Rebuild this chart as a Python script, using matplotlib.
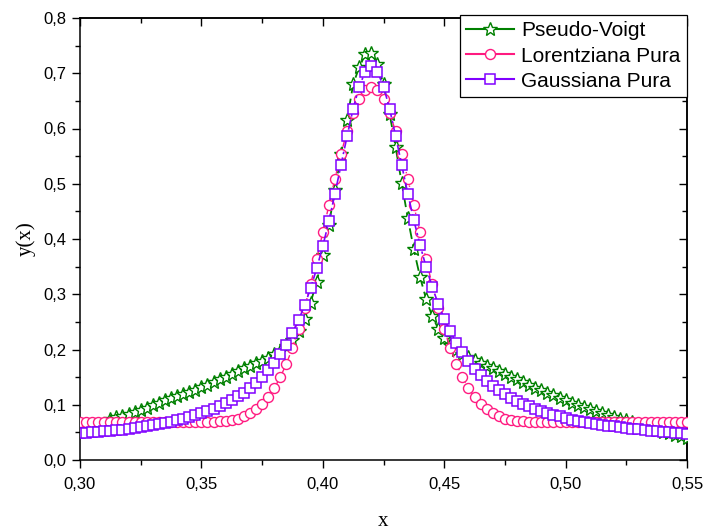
import matplotlib
matplotlib.use('Agg')
import matplotlib.pyplot as plt
from matplotlib.lines import Line2D
from matplotlib.ticker import MultipleLocator, FuncFormatter

# ---------------- data ----------------
x = [0.3000, 0.3025, 0.3050, 0.3075, 0.3100, 0.3125, 0.3150, 0.3175, 0.3200, 0.3225,
     0.3250, 0.3275, 0.3300, 0.3325, 0.3350, 0.3375, 0.3400, 0.3425, 0.3450, 0.3475,
     0.3500, 0.3525, 0.3550, 0.3575, 0.3600, 0.3625, 0.3650, 0.3675, 0.3700, 0.3725,
     0.3750, 0.3775, 0.3800, 0.3825, 0.3850, 0.3875, 0.3900, 0.3925, 0.3950, 0.3975,
     0.4000, 0.4025, 0.4050, 0.4075, 0.4100, 0.4125, 0.4150, 0.4175, 0.4200, 0.4225,
     0.4250, 0.4275, 0.4300, 0.4325, 0.4350, 0.4375, 0.4400, 0.4425, 0.4450, 0.4475,
     0.4500, 0.4525, 0.4550, 0.4575, 0.4600, 0.4625, 0.4650, 0.4675, 0.4700, 0.4725,
     0.4750, 0.4775, 0.4800, 0.4825, 0.4850, 0.4875, 0.4900, 0.4925, 0.4950, 0.4975,
     0.5000, 0.5025, 0.5050, 0.5075, 0.5100, 0.5125, 0.5150, 0.5175, 0.5200, 0.5225,
     0.5250, 0.5275, 0.5300, 0.5325, 0.5350, 0.5375, 0.5400, 0.5425, 0.5450, 0.5475,
     0.5500]

# Pseudo-Voigt: starts at x = 0.3125 (x[5:])
pseudo_voigt = [0.074, 0.077, 0.080, 0.083, 0.087, 0.091, 0.095, 0.099, 0.104, 0.108,
                0.112, 0.115, 0.119, 0.123, 0.127, 0.132, 0.136, 0.141, 0.146, 0.151,
                0.156, 0.161, 0.166, 0.171, 0.175, 0.180, 0.185, 0.191, 0.197, 0.206,
                0.218, 0.234, 0.256, 0.285, 0.323, 0.371, 0.426, 0.488, 0.553, 0.616,
                0.680, 0.711, 0.734, 0.736, 0.717, 0.680, 0.627, 0.566, 0.501, 0.438,
                0.381, 0.332, 0.292, 0.261, 0.238, 0.220, 0.208, 0.199, 0.192, 0.186,
                0.181, 0.176, 0.171, 0.166, 0.161, 0.156, 0.151, 0.146, 0.141, 0.136,
                0.131, 0.127, 0.122, 0.118, 0.113, 0.109, 0.104, 0.100, 0.096, 0.092,
                0.088, 0.085, 0.081, 0.078, 0.075, 0.072, 0.068, 0.065, 0.061, 0.058,
                0.055, 0.051, 0.048, 0.046, 0.043, 0.040]

lorentziana = [0.068, 0.068, 0.068, 0.068, 0.068, 0.068, 0.068, 0.068, 0.068, 0.068,
               0.068, 0.068, 0.068, 0.068, 0.068, 0.068, 0.068, 0.068, 0.068, 0.068,
               0.068, 0.068, 0.069, 0.070, 0.071, 0.073, 0.075, 0.079, 0.085, 0.092,
               0.102, 0.114, 0.130, 0.150, 0.174, 0.203, 0.237, 0.276, 0.318, 0.364,
               0.412, 0.461, 0.509, 0.554, 0.595, 0.628, 0.654, 0.670, 0.675, 0.670,
               0.654, 0.628, 0.595, 0.554, 0.509, 0.461, 0.412, 0.364, 0.318, 0.276,
               0.237, 0.203, 0.174, 0.150, 0.130, 0.114, 0.102, 0.092, 0.085, 0.079,
               0.075, 0.073, 0.071, 0.070, 0.069, 0.068, 0.068, 0.068, 0.068, 0.068,
               0.068, 0.068, 0.068, 0.068, 0.068, 0.068, 0.068, 0.068, 0.068, 0.068,
               0.068, 0.068, 0.068, 0.068, 0.068, 0.068, 0.068, 0.068, 0.068, 0.068,
               0.068]

gaussiana = [0.048, 0.049, 0.050, 0.051, 0.052, 0.053, 0.054, 0.055, 0.057, 0.058,
             0.060, 0.061, 0.063, 0.065, 0.067, 0.069, 0.072, 0.075, 0.078, 0.081,
             0.085, 0.088, 0.093, 0.097, 0.103, 0.109, 0.115, 0.122, 0.131, 0.140,
             0.150, 0.162, 0.176, 0.192, 0.209, 0.230, 0.253, 0.280, 0.311, 0.347,
             0.387, 0.432, 0.482, 0.534, 0.586, 0.636, 0.676, 0.703, 0.713, 0.703,
             0.676, 0.636, 0.586, 0.534, 0.482, 0.434, 0.390, 0.350, 0.314, 0.283,
             0.256, 0.233, 0.212, 0.195, 0.179, 0.165, 0.153, 0.143, 0.134, 0.126,
             0.119, 0.113, 0.107, 0.101, 0.097, 0.092, 0.089, 0.085, 0.082, 0.079,
             0.076, 0.073, 0.071, 0.069, 0.067, 0.065, 0.064, 0.062, 0.061, 0.059,
             0.058, 0.057, 0.056, 0.054, 0.053, 0.052, 0.051, 0.050, 0.049, 0.048,
             0.047]

labels = ["Pseudo-Voigt", "Lorentziana Pura", "Gaussiana Pura"]
x_ticks = [0.30, 0.35, 0.40, 0.45, 0.50, 0.55]
y_ticks = [0.0, 0.1, 0.2, 0.3, 0.4, 0.5, 0.6, 0.7, 0.8]

# ---------------- styling ----------------
c_green = '#008000'
c_pink = '#FF1A80'
c_purple = '#8000FF'
sans = 'Liberation Sans'
serif = 'Liberation Serif'

fig = plt.figure(figsize=(7.04, 5.31), dpi=100)
ax = fig.add_axes([80 / 704, 1 - 460 / 531, 607 / 704, 442 / 531])

ax.plot(x[5:], pseudo_voigt, color=c_green, lw=1.3, ls=(0, (6, 3)),
        marker='*', ms=10, mfc='white', mec=c_green, mew=1.0, zorder=3)
ax.plot(x, lorentziana, color=c_pink, lw=1.0, ls=(0, (5, 2, 1, 2)),
        marker='o', ms=7.2, mfc='white', mec=c_pink, mew=1.0, zorder=4)
ax.plot(x, gaussiana, color=c_purple, lw=1.2, ls=(0, (6, 2, 1.5, 2)),
        marker='s', ms=6.5, mfc='white', mec=c_purple, mew=1.1, zorder=5)

ax.set_xlim(0.30, 0.55)
ax.set_ylim(0.0, 0.8)
ax.set_xticks(x_ticks)
ax.set_yticks(y_ticks)
ax.xaxis.set_minor_locator(MultipleLocator(0.025))
ax.yaxis.set_minor_locator(MultipleLocator(0.05))
ax.xaxis.set_major_formatter(FuncFormatter(lambda v, p: f"{v:.2f}".replace('.', ',')))
ax.yaxis.set_major_formatter(FuncFormatter(lambda v, p: f"{v:.1f}".replace('.', ',')))
ax.tick_params(which='major', direction='out', length=6, width=1.0,
               labelsize=12, top=False, right=False)
ax.tick_params(which='minor', direction='out', length=3.5, width=1.0,
               top=False, right=False)
ax.tick_params(axis='x', which='major', pad=6)
for lab in ax.get_xticklabels() + ax.get_yticklabels():
    lab.set_fontfamily(sans)

for s in ax.spines.values():
    s.set_linewidth(1.1)

# inward ticks on top and right
top = ax.secondary_xaxis('top')
top.set_xticks(x_ticks)
top.xaxis.set_minor_locator(MultipleLocator(0.025))
top.tick_params(which='major', direction='in', length=6, width=1.0, labeltop=False)
top.tick_params(which='minor', direction='in', length=3.5, width=1.0)
right = ax.secondary_yaxis('right')
right.set_yticks(y_ticks)
right.yaxis.set_minor_locator(MultipleLocator(0.05))
right.tick_params(which='major', direction='in', length=6, width=1.0, labelright=False)
right.tick_params(which='minor', direction='in', length=3.5, width=1.0)
top.spines['top'].set_linewidth(1.1)
right.spines['right'].set_linewidth(1.1)

ax.set_xlabel('x', fontfamily=serif, fontsize=15, labelpad=15)
ax.set_ylabel('y(x)', fontfamily=serif, fontsize=15, labelpad=6)

handles = [
    Line2D([], [], color=c_green, lw=1.5, marker='*', ms=10, mfc='white', mew=1.0),
    Line2D([], [], color=c_pink, lw=1.5, marker='o', ms=7.2, mfc='white', mew=1.0),
    Line2D([], [], color=c_purple, lw=1.5, marker='s', ms=6.5, mfc='white', mew=1.1),
]
leg = ax.legend(handles, labels, loc='upper right', bbox_to_anchor=(1.0, 1.0 + 3 / 442),
                prop={'family': sans, 'size': 15}, frameon=True, fancybox=False,
                edgecolor='black', framealpha=1.0, borderpad=0.3, labelspacing=0.3,
                handlelength=2.3, handletextpad=0.35, borderaxespad=0.0)
leg.get_frame().set_linewidth(0.9)
leg.set_zorder(10)

fig.savefig('out.png', dpi=100)
